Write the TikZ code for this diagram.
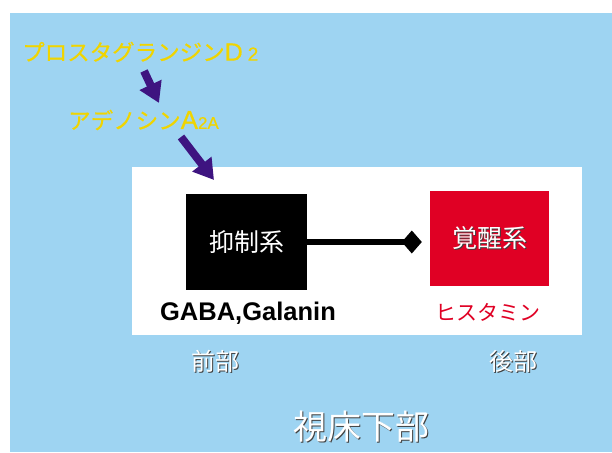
\documentclass[tikz,border=0pt]{standalone}
\usepackage{fontspec}
\setmainfont{Liberation Sans}
\newfontfamily\jp{Noto Sans CJK JP}
\newfontfamily\jpy[FakeBold=0.6]{Noto Sans CJK JP}
\newfontfamily\lsy[FakeBold=0.6]{Liberation Sans}
\usetikzlibrary{arrows.meta}
\definecolor{bgblue}{RGB}{158,212,242}
\definecolor{ylw}{RGB}{240,212,0}
\definecolor{purp}{RGB}{62,20,128}
\definecolor{redbox}{RGB}{224,0,36}
\newcommand\shad[1]{\makebox[0pt][l]{\hspace{1.2pt}\raisebox{-1.2pt}{\color{black!75}#1}}#1}
\newcommand\fs[1]{\fontsize{#1}{#1}\selectfont}
\tikzset{
  yellowtxt/.style={text=ylw, inner sep=0pt, anchor=west},
  bigarrow/.style={draw=purp, line width=8pt, -{Triangle[width=23pt,length=20pt]}},
  whitetxt/.style={text=white, inner sep=0pt},
  boxnode/.style={inner sep=0pt, text=white}
}
\begin{document}
\begin{tikzpicture}[x=1pt,y=-1pt]
\useasboundingbox (0,0) rectangle (612,452);
\fill[bgblue] (10,13) rectangle (612,452);
\fill[white] (132,167) rectangle (582,335);

\node[yellowtxt] (pgd) at (22,52) {\fs{22.5}\jpy プロスタグランジン{\fs{25}\lsy D}\hspace{5pt}{\fs{19}\lsy 2}};
\node[yellowtxt] (ade) at (68,120) {\fs{22.5}\jpy アデノシン{\fs{26}\lsy A}{\fs{17}\lsy 2A}};

\node[boxnode, fill=black, minimum width=121pt, minimum height=96pt] (inh) at (246.5,242) {\fs{25}\jp 抑制系};
\node[boxnode, fill=redbox, minimum width=119pt, minimum height=95pt] (wake) at (489.5,238.5) {\raisebox{-4pt}{\fs{25}\jp\shad{覚醒系}}};

\node[inner sep=0pt] (gaba) at (248,313) {\fs{25.5}\bfseries GABA,Galanin};
\node[inner sep=0pt, text=redbox] (hist) at (488,312) {\fs{21}\jp ヒスタミン};

\node[whitetxt] (ant) at (215,362) {\fs{24}\jp\shad{前部}};
\node[whitetxt] (post) at (513,362) {\fs{24}\jp\shad{後部}};
\node[whitetxt] (hypo) at (361,427) {\fs{34}\jp\shad{視床下部}};

\coordinate (a1s) at (144,71);
\coordinate (a1e) at (159,103);
\coordinate (a2s) at (181,137);
\coordinate (a2e) at (214,180);
\draw[bigarrow] (a1s) -- (a1e);
\draw[bigarrow] (a2s) -- (a2e);

\draw[line width=6pt, -{Diamond[width=23pt,length=20pt]}, shorten >=8pt] (inh.east) -- (inh.east -| wake.west);
\end{tikzpicture}
\end{document}
